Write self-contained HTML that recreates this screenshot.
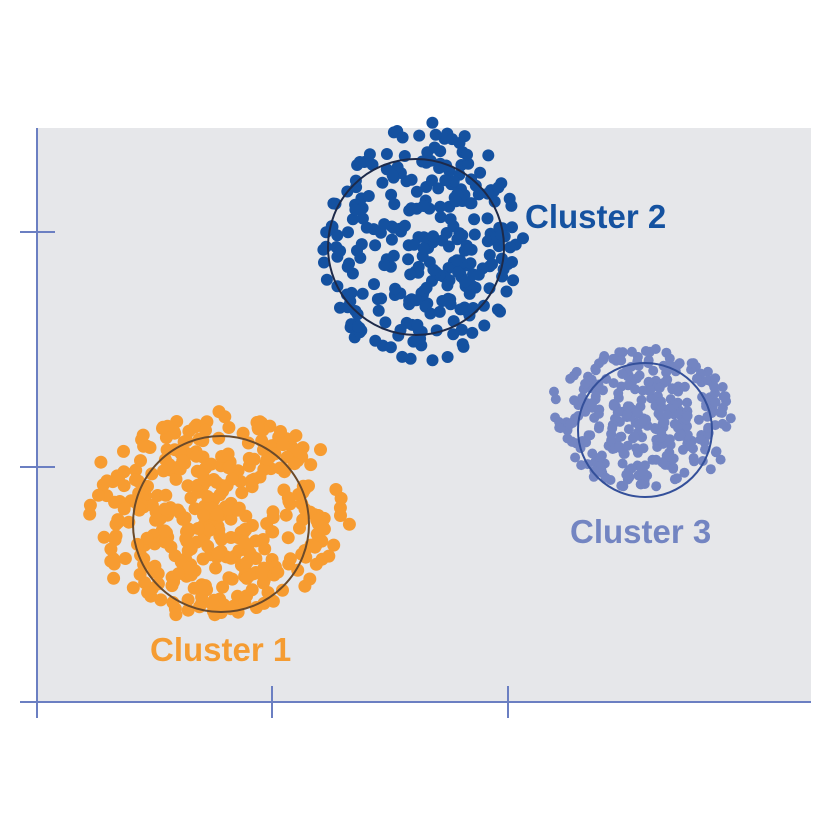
<!DOCTYPE html>
<html><head><meta charset="utf-8"><style>
html,body{margin:0;padding:0;background:#fff;width:827px;height:827px;overflow:hidden}
text{font-family:"Liberation Sans",sans-serif;font-weight:bold}
</style></head><body>
<svg id="s" width="827" height="827" viewBox="0 0 827 827" xmlns="http://www.w3.org/2000/svg">
<rect x="37" y="128" width="774" height="574" fill="#e6e7ea"/>
<g stroke="#6b7fc2" stroke-width="2" fill="none">
<line x1="37" y1="128" x2="37" y2="718"/>
<line x1="20" y1="702" x2="811" y2="702"/>
<line x1="20" y1="232" x2="55" y2="232"/>
<line x1="20" y1="467" x2="55" y2="467"/>
<line x1="272" y1="686" x2="272" y2="718"/>
<line x1="508" y1="686" x2="508" y2="718"/>
</g>
<g id="dots"></g>
<circle cx="221" cy="524" r="88" fill="none" stroke="#6b4a2a" stroke-width="2"/>
<circle cx="416" cy="247" r="88" fill="none" stroke="#1d2a4a" stroke-width="2"/>
<circle cx="645" cy="430" r="67" fill="none" stroke="#34509a" stroke-width="2"/>
<text x="525" y="228" font-size="33" fill="#1552a0">Cluster 2</text>
<text x="570" y="543" font-size="33" fill="#7385c2">Cluster 3</text>
<text x="150" y="661" font-size="33" fill="#f59c32">Cluster 1</text>
</svg>
<script>
var seed=24680;function rnd(){seed=(seed*16807)%2147483647;return seed/2147483647;}
var g=document.getElementById('dots'),ns='http://www.w3.org/2000/svg';
function cl(cx,cy,rx,ry,n,r,col){
for(var i=0;i<n;i++){var a=rnd()*Math.PI*2,d=Math.pow(rnd(),0.6);if(rnd()<0.15)d*=1.08;
var x=cx+Math.cos(a)*d*rx,y=cy+Math.sin(a)*d*ry;
var c=document.createElementNS(ns,'circle');c.setAttribute('cx',x.toFixed(1));c.setAttribute('cy',y.toFixed(1));c.setAttribute('r',r);c.setAttribute('fill',col);g.appendChild(c);}}
cl(218,515,125,100,400,6.5,'#f79c31');
cl(420,245,98,118,290,6,'#1451a0');
cl(642,418,90,70,330,5,'#7385c2');
</script>
</body></html>
